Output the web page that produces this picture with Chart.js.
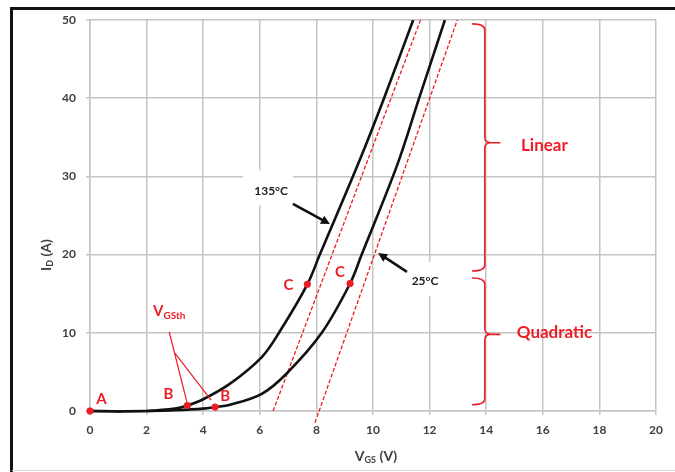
<!DOCTYPE html>
<html><head><meta charset="utf-8">
<script src="https://cdn.jsdelivr.net/npm/chart.js@4/dist/chart.umd.min.js"></script>
<style>html,body{margin:0;padding:0;background:#fff}#wrap{width:675px;height:472px;position:relative}</style>
</head><body><div id="wrap"><canvas id="c" width="675" height="472"></canvas></div>
<script>
// ---- data ----
const vgs135 = [0, 1, 2, 3, 3.44, 4, 4.95, 6.07, 6.71, 7.68, 8.12, 9.52, 10.39, 11.42];
const id135  = [0, -0.05, 0, 0.3, 0.7, 1.5, 3.5, 6.9, 10.2, 16.2, 20, 32, 40, 50];
const vgs25  = [0, 1, 2, 3, 4, 4.42, 4.95, 6.07, 6.95, 8.19, 9.19, 9.6, 10.86, 11.63, 12.54];
const id25   = [0, -0.05, 0, 0.1, 0.3, 0.5, 0.8, 2.2, 4.8, 10, 16.3, 20, 31.5, 40, 50];
const tan135X = [6.47, 11.68];
const tan135Y = [0, 50];
const tan25X  = [7.95, 12.98];
const tan25Y  = [-1.5, 50];
const markX = [0, 3.44, 4.42, 7.68, 9.19];
const markY = [0, 0.7, 0.5, 16.2, 16.3];
const markLabels = ['A', 'B', 'B', 'C', 'C'];
const xTicks = [0, 2, 4, 6, 8, 10, 12, 14, 16, 18, 20];
const yTicks = [0, 10, 20, 30, 40, 50];
const curveLabels = ['135°C', '25°C'];
const regionLabels = ['Linear', 'Quadratic'];
const xTitle = ['V', 'GS', ' (V)'];
const yTitle = ['I', 'D', ' (A)'];
const vthTitle = ['V', 'GSth'];

const RED = '#ee1c25';
const FONT = 'Lato, "Liberation Sans", sans-serif';
const pts = (xs, ys) => xs.map((x, i) => ({x, y: ys[i]}));

const annot = {
  id: 'annot',
  beforeDraw(chart) {
    const c = chart.ctx;
    c.save();
    c.fillStyle = '#fff';
    c.fillRect(0, 0, chart.width, chart.height);
    c.strokeStyle = '#111';
    c.lineWidth = 3;
    c.beginPath();
    c.moveTo(11.5, 472); c.lineTo(11.5, 8.5); c.lineTo(675, 8.5);
    c.stroke();
    c.strokeStyle = '#d8d8d8';
    c.lineWidth = 1;
    c.beginPath(); c.moveTo(12, 470.5); c.lineTo(675, 470.5); c.stroke();
    c.restore();
  },
  afterDatasetsDraw(chart) {
    const c = chart.ctx, xs = chart.scales.x, ys = chart.scales.y;
    const X = v => xs.getPixelForValue(v), Y = v => ys.getPixelForValue(v);
    c.save();
    const offs = [[11.5, -12], [-19, -11], [10, -11], [-19, 1], [-10, -11]];
    c.font = 'bold 15px ' + FONT;
    c.fillStyle = RED; c.textAlign = 'center'; c.textBaseline = 'middle';
    markLabels.forEach((t, i) => c.fillText(t, X(markX[i]) + offs[i][0], Y(markY[i]) + offs[i][1]));
    c.textAlign = 'left'; c.textBaseline = 'alphabetic';
    c.font = 'bold 15px ' + FONT;
    const vx = X(2.23), vy = Y(12.2);
    c.fillText(vthTitle[0], vx, vy);
    const vw = c.measureText(vthTitle[0]).width;
    c.font = 'bold 10px ' + FONT;
    c.fillText(vthTitle[1], vx + vw, vy + 3);
    c.strokeStyle = RED; c.lineWidth = 1.2;
    c.beginPath();
    c.moveTo(X(2.8), Y(10.1)); c.lineTo(X(3.42), Y(1.2));
    c.moveTo(X(3.0), Y(7.4)); c.lineTo(X(4.28), Y(1.4));
    c.stroke();
    c.fillStyle = '#fff';
    c.fillRect(X(5.41), Y(30.8), X(7.17) - X(5.41), Y(26.3) - Y(30.8));
    c.fillRect(X(11.13), Y(19.05), X(12.61) - X(11.13), Y(14.7) - Y(19.05));
    c.fillStyle = '#222'; c.textAlign = 'center'; c.textBaseline = 'middle';
    c.font = 'bold 12px ' + FONT;
    c.fillText(curveLabels[0], X(6.40), Y(28.1));
    c.fillText(curveLabels[1], X(11.84), Y(16.6));
    const arrow = (x1, y1, x2, y2) => {
      const ax = X(x1), ay = Y(y1), bx = X(x2), by = Y(y2);
      const a = Math.atan2(by - ay, bx - ax), L = 9, W = 4.5;
      c.strokeStyle = '#111'; c.fillStyle = '#111'; c.lineWidth = 2.6;
      c.beginPath(); c.moveTo(ax, ay);
      c.lineTo(bx - Math.cos(a) * L * 0.8, by - Math.sin(a) * L * 0.8); c.stroke();
      c.beginPath(); c.moveTo(bx, by);
      c.lineTo(bx - L * Math.cos(a) + W * Math.sin(a), by - L * Math.sin(a) - W * Math.cos(a));
      c.lineTo(bx - L * Math.cos(a) - W * Math.sin(a), by - L * Math.sin(a) + W * Math.cos(a));
      c.closePath(); c.fill();
    };
    arrow(7.17, 26.5, 8.48, 23.9);
    arrow(11.2, 17.8, 10.18, 20.2);
    const brace = (top, mid, bot) => {
      const xv = X(13.95), x0 = X(13.5), xt = X(14.5);
      const yt = Y(top), ym = Y(mid), yb = Y(bot), r = 6;
      c.strokeStyle = RED; c.lineWidth = 1.6;
      c.beginPath();
      c.moveTo(x0, yt); c.quadraticCurveTo(xv, yt, xv, yt + r);
      c.lineTo(xv, ym - r); c.quadraticCurveTo(xv, ym, xv + 6, ym);
      c.lineTo(xt, ym);
      c.moveTo(xv + 6, ym); c.quadraticCurveTo(xv, ym, xv, ym + r);
      c.lineTo(xv, yb - r); c.quadraticCurveTo(xv, yb, x0, yb);
      c.stroke();
    };
    brace(49.5, 34.3, 17.9);
    brace(17.0, 9.8, 0.8);
    c.fillStyle = RED; c.textAlign = 'left'; c.textBaseline = 'middle';
    c.font = 'bold 17px ' + FONT;
    c.fillText(regionLabels[0], X(15.23), Y(34.0));
    c.fillText(regionLabels[1], X(15.08), Y(10.0));
    c.fillStyle = '#404040'; c.textBaseline = 'alphabetic';
    const widths = (parts, big, small) => {
      c.font = 'bold ' + big + 'px ' + FONT; const w0 = c.measureText(parts[0]).width;
      c.font = 'bold ' + small + 'px ' + FONT; const w1 = c.measureText(parts[1]).width;
      c.font = 'bold ' + big + 'px ' + FONT; const w2 = c.measureText(parts[2]).width;
      return [w0, w1, w2];
    };
    let w = widths(xTitle, 14, 9), tw = w[0] + w[1] + w[2];
    let sx = (chart.chartArea.left + chart.chartArea.right) / 2 - tw / 2 + 3, by = 461;
    c.textAlign = 'left';
    c.font = 'bold 14px ' + FONT; c.fillText(xTitle[0], sx, by);
    c.font = 'bold 9px ' + FONT; c.fillText(xTitle[1], sx + w[0], by + 2);
    c.font = 'bold 14px ' + FONT; c.fillText(xTitle[2], sx + w[0] + w[1], by);
    c.save();
    c.translate(51, 255); c.rotate(-Math.PI / 2);
    w = widths(yTitle, 14, 9); tw = w[0] + w[1] + w[2];
    sx = -tw / 2;
    c.font = 'bold 14px ' + FONT; c.fillText(yTitle[0], sx, 0);
    c.font = 'bold 9px ' + FONT; c.fillText(yTitle[1], sx + w[0], 2);
    c.font = 'bold 14px ' + FONT; c.fillText(yTitle[2], sx + w[0] + w[1], 0);
    c.restore();
    c.restore();
  }
};

new Chart(document.getElementById('c'), {
  type: 'scatter',
  data: {
    datasets: [
      { data: pts(tan135X, tan135Y), showLine: true, borderColor: RED, borderWidth: 1.3, borderDash: [4, 2], pointRadius: 0, clip: {left: 5, top: 2, right: 5, bottom: 20}, order: 3 },
      { data: pts(tan25X, tan25Y), showLine: true, borderColor: RED, borderWidth: 1.3, borderDash: [4, 2], pointRadius: 0, clip: {left: 5, top: 2, right: 5, bottom: 20}, order: 3 },
      { data: pts(vgs135, id135), showLine: true, borderColor: '#111', borderWidth: 2.6, pointRadius: 0, tension: 0.35, clip: {left: 5, top: 0, right: 5, bottom: 5}, order: 2 },
      { data: pts(vgs25, id25), showLine: true, borderColor: '#111', borderWidth: 2.6, pointRadius: 0, tension: 0.35, clip: {left: 5, top: 0, right: 5, bottom: 5}, order: 2 },
      { data: pts(markX, markY), showLine: false, pointRadius: 3.2, pointBackgroundColor: RED, pointBorderColor: RED, clip: false, order: 1 }
    ]
  },
  options: {
    responsive: false, animation: false, devicePixelRatio: 1,
    layout: { padding: { left: 12, top: 20, right: 19, bottom: 0 } },
    plugins: { legend: { display: false }, tooltip: { enabled: false } },
    scales: {
      x: {
        type: 'linear', min: 0, max: 20,
        afterBuildTicks: s => { s.ticks = xTicks.map(v => ({value: v})); },
        afterFit: s => { s.height = 61; },
        grid: { color: '#c4c4c4', lineWidth: 1.5, tickLength: 4, drawTicks: true },
        border: { color: '#c4c4c4', width: 1.5 },
        ticks: { padding: 8, color: '#404040', font: { family: FONT, size: 12, weight: 'bold' }, maxRotation: 0 }
      },
      y: {
        type: 'linear', min: 0, max: 50,
        afterBuildTicks: s => { s.ticks = yTicks.map(v => ({value: v})); },
        afterFit: s => { s.width = 78; },
        grid: { color: '#c4c4c4', lineWidth: 1.5, tickLength: 4, drawTicks: true },
        border: { color: '#c4c4c4', width: 1.5 },
        ticks: { padding: 10, color: '#404040', font: { family: FONT, size: 12, weight: 'bold' } }
      }
    }
  },
  plugins: [annot]
});
</script></body></html>
